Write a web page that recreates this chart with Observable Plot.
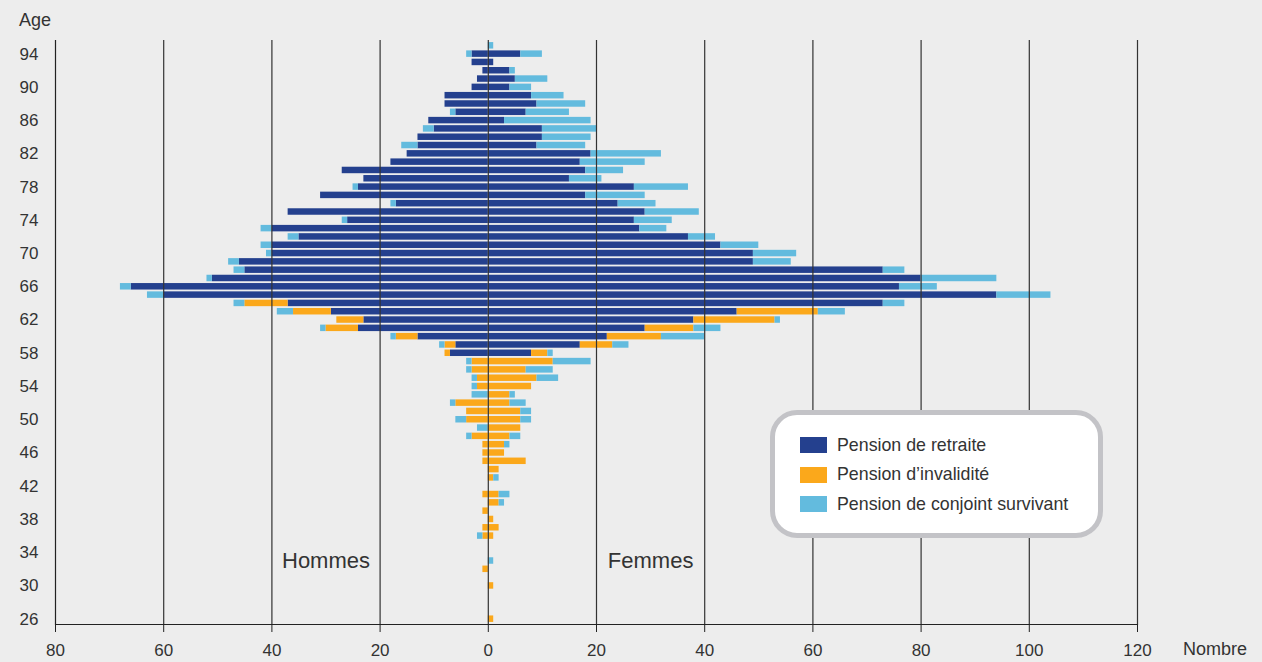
<!DOCTYPE html>
<html>
<head>
<meta charset="utf-8">
<script src="https://cdn.jsdelivr.net/npm/d3@7"></script>
<script src="https://cdn.jsdelivr.net/npm/@observablehq/plot@0.6"></script>
<style>
  html, body { margin: 0; padding: 0; background: #ededed; }
  #wrap { position: relative; width: 1262px; height: 662px; font-family: "Liberation Sans", Arial, sans-serif; color: #333; }
  #wrap svg { position: absolute; left: 0; top: 0; }
  .lbl { position: absolute; font-size: 18px; color: #333; white-space: nowrap; }
  #legend { position: absolute; left: 770px; top: 410px; width: 333px; height: 128px; box-sizing: border-box; background: #fff; border: 5px solid #c3c3c7; border-radius: 27px; }
  .item { position: absolute; left: 25px; height: 22px; display: flex; align-items: center; font-size: 17.8px; color: #333; white-space: nowrap; }
  .sw { width: 27px; height: 16px; margin-right: 10px; }
</style>
</head>
<body>
<div id="wrap"></div>
<script>
// Ages (top to bottom)
const ages = d3.range(95, 25, -1);
const yTicks = [94, 90, 86, 82, 78, 74, 70, 66, 62, 58, 54, 50, 46, 42, 38, 34, 30, 26];
const xTicks = [-80, -60, -40, -20, 0, 20, 40, 60, 80, 100, 120];
const types = ["Pension de retraite", "Pension d\u2019invalidit\u00e9", "Pension de conjoint survivant"];
const colors = ["#24408e", "#fba81b", "#63bbde"];

// Hommes (ages 95 -> 26)
const hommesRetraite = [
  0, 3, 3, 1, 2, 3, 8, 8, 6, 11,
  10, 13, 13, 15, 18, 27, 23, 24, 31, 17,
  37, 26, 40, 35, 40, 40, 46, 45, 51, 66,
  60, 37, 29, 23, 24, 13, 6, 7, 0, 0,
  0, 0, 0, 0, 0, 0, 0, 0, 0, 0,
  0, 0, 0, 0, 0, 0, 0, 0, 0, 0,
  0, 0, 0, 0, 0, 0, 0, 0, 0, 0
];
const hommesInvalidite = [
  0, 0, 0, 0, 0, 0, 0, 0, 0, 0,
  0, 0, 0, 0, 0, 0, 0, 0, 0, 0,
  0, 0, 0, 0, 0, 0, 0, 0, 0, 0,
  0, 8, 7, 5, 6, 4, 2, 1, 3, 3,
  2, 2, 0, 6, 4, 4, 0, 3, 1, 1,
  1, 0, 0, 0, 1, 0, 1, 0, 1, 1,
  0, 0, 0, 1, 0, 0, 0, 0, 0, 0
];
const hommesConjoint = [
  0, 1, 0, 0, 0, 0, 0, 0, 1, 0,
  2, 0, 3, 0, 0, 0, 0, 1, 0, 1,
  0, 1, 2, 2, 2, 1, 2, 2, 1, 2,
  3, 2, 3, 0, 1, 1, 1, 0, 1, 1,
  1, 1, 3, 1, 0, 2, 2, 1, 0, 0,
  0, 0, 0, 0, 0, 0, 0, 0, 0, 1,
  0, 0, 0, 0, 0, 0, 0, 0, 0, 0
];
// Femmes (ages 95 -> 26)
const femmesRetraite = [
  0, 6, 1, 4, 5, 4, 8, 9, 7, 3,
  10, 10, 9, 19, 17, 18, 15, 27, 18, 24,
  29, 27, 28, 37, 43, 49, 49, 73, 80, 76,
  94, 73, 46, 38, 29, 22, 17, 8, 0, 0,
  0, 0, 0, 0, 0, 0, 0, 0, 0, 0,
  0, 0, 0, 0, 0, 0, 0, 0, 0, 0,
  0, 0, 0, 0, 0, 0, 0, 0, 0, 0
];
const femmesInvalidite = [
  0, 0, 0, 0, 0, 0, 0, 0, 0, 0,
  0, 0, 0, 0, 0, 0, 0, 0, 0, 0,
  0, 0, 0, 0, 0, 0, 0, 0, 0, 0,
  0, 0, 15, 15, 9, 10, 6, 3, 12, 7,
  9, 8, 4, 4, 6, 6, 6, 4, 3, 3,
  7, 2, 1, 0, 2, 2, 0, 1, 2, 1,
  0, 0, 0, 0, 0, 1, 0, 0, 0, 1
];
const femmesConjoint = [
  1, 4, 0, 1, 6, 4, 6, 9, 8, 16,
  10, 9, 9, 13, 12, 7, 6, 10, 11, 7,
  10, 7, 5, 5, 7, 8, 7, 4, 14, 7,
  10, 4, 5, 1, 5, 8, 3, 1, 7, 5,
  4, 0, 1, 3, 2, 2, 0, 2, 1, 0,
  0, 0, 1, 0, 2, 1, 0, 0, 0, 0,
  0, 0, 1, 0, 0, 0, 0, 0, 0, 0
];

const sides = [
  {sign: -1, series: [hommesRetraite, hommesInvalidite, hommesConjoint]},
  {sign: 1, series: [femmesRetraite, femmesInvalidite, femmesConjoint]}
];
const rows = [];
sides.forEach(s => {
  ages.forEach((age, i) => {
    s.series.forEach((arr, k) => {
      if (arr[i] > 0) rows.push({age, type: types[k], value: s.sign * arr[i]});
    });
  });
});

const labels = [
  {x: -30, y: 33, text: "Hommes"},
  {x: 30, y: 33, text: "Femmes"}
];

const chart = Plot.plot({
  width: 1262,
  height: 662,
  marginLeft: 55,
  marginRight: 125,
  marginTop: 40,
  marginBottom: 38,
  style: {background: "transparent", fontFamily: "'Liberation Sans', Arial, sans-serif", fontSize: "17px", color: "#333", overflow: "visible"},
  x: {domain: [-80, 120]},
  y: {type: "band", domain: ages, paddingInner: 0.22, paddingOuter: 0.25, round: false},
  color: {domain: types, range: colors},
  marks: [
    Plot.barX(rows, Plot.stackX({y: "age", x: "value", fill: "type", order: null})),
    Plot.ruleX(xTicks.slice(1), {stroke: "#333", strokeWidth: 1.2}),
    Plot.ruleX([-80], {stroke: "#222", strokeWidth: 1.2}),
    Plot.frame({anchor: "bottom", stroke: "#222", strokeWidth: 1.2}),
    Plot.text(labels, {x: "x", y: "y", text: "text", fontSize: 22, fill: "#333"}),
    Plot.axisY({ticks: yTicks, tickSize: 0, tickPadding: 17, label: null, fontSize: 17}),
    Plot.axisX({ticks: xTicks, tickFormat: d => Math.abs(d), tickSize: 8, tickPadding: 11, label: null, fontSize: 17, stroke: "#222"})
  ]
});

const wrap = document.getElementById("wrap");
wrap.appendChild(chart);

const age = document.createElement("div");
age.className = "lbl"; age.textContent = "Age";
age.style.left = "19px"; age.style.top = "10px";
wrap.appendChild(age);

const nombre = document.createElement("div");
nombre.className = "lbl"; nombre.textContent = "Nombre";
nombre.style.left = "1183px"; nombre.style.top = "639px";
wrap.appendChild(nombre);

const legend = document.createElement("div");
legend.id = "legend";
types.forEach((t, i) => {
  const it = document.createElement("div");
  it.className = "item";
  it.style.top = (19 + i * 29.5) + "px";
  const sw = document.createElement("div");
  sw.className = "sw"; sw.style.background = colors[i];
  const tx = document.createElement("span");
  tx.textContent = t;
  it.appendChild(sw); it.appendChild(tx);
  legend.appendChild(it);
});
wrap.appendChild(legend);
</script>
</body>
</html>
